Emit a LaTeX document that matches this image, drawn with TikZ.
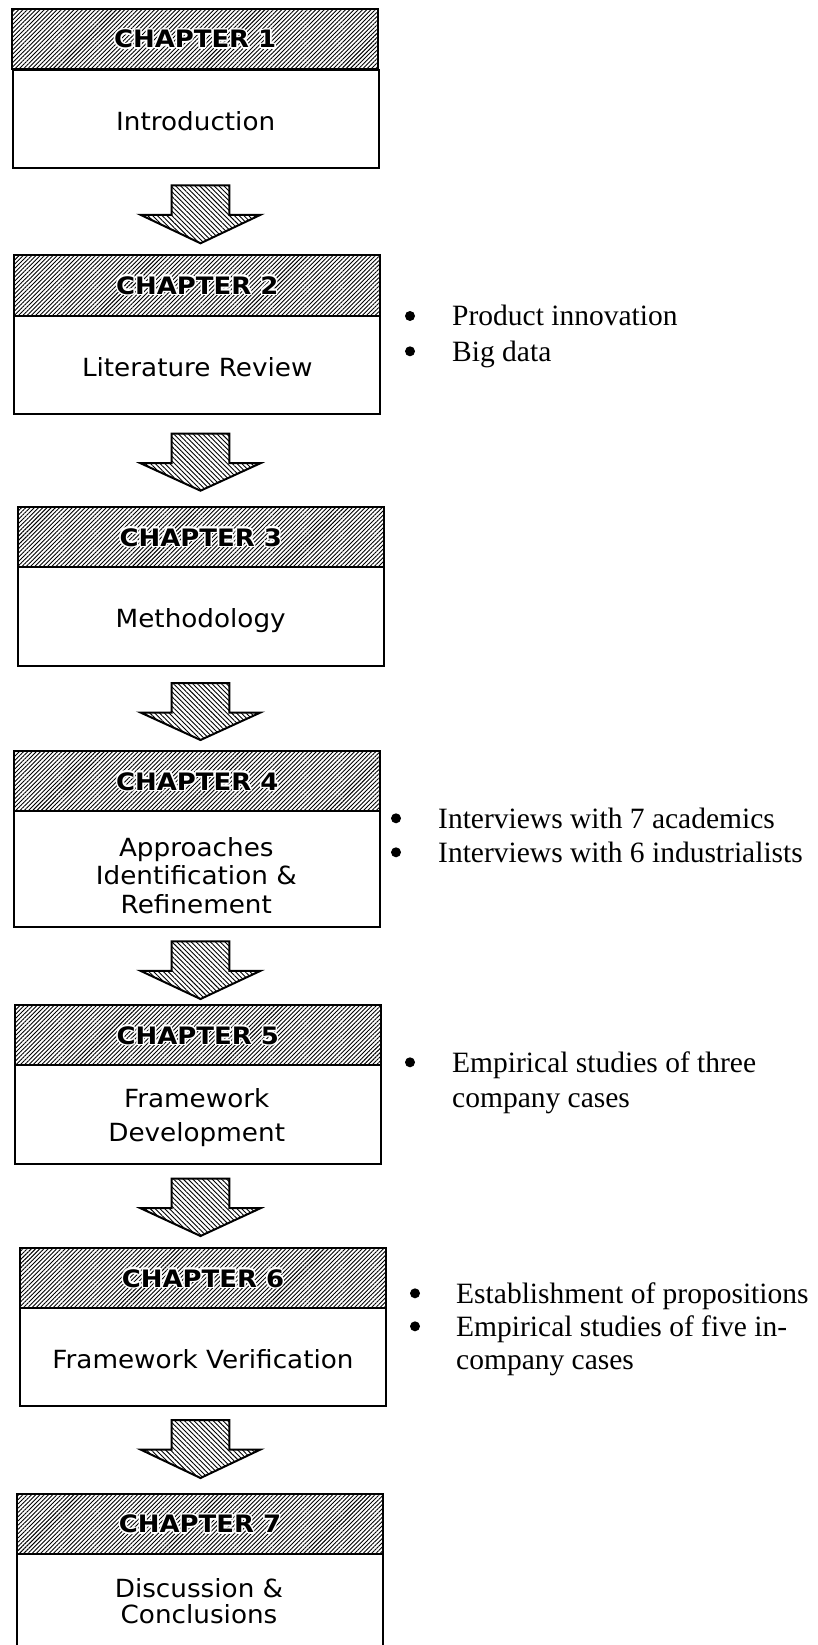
\documentclass[tikz,border=0pt]{standalone}
\usepackage{fontspec}
\usetikzlibrary{patterns.meta,calc}

\newfontfamily\boxfont[FakeStretch=1.05]{DejaVu Sans}
\newfontfamily\capfont[FakeStretch=1.08]{DejaVu Sans}
\newfontfamily\notefont{Liberation Serif}

% white halo behind the chapter captions so they stand out of the hatching
\newcommand\hcopy[3]{\rlap{\hspace*{#1}\raisebox{#2}{\color{white}#3}}}
\newcommand\halo[1]{%
  \hcopy{1.6pt}{0pt}{#1}\hcopy{-1.6pt}{0pt}{#1}%
  \hcopy{0pt}{1.6pt}{#1}\hcopy{0pt}{-1.6pt}{#1}%
  \hcopy{1.13pt}{1.13pt}{#1}\hcopy{-1.13pt}{1.13pt}{#1}%
  \hcopy{1.13pt}{-1.13pt}{#1}\hcopy{-1.13pt}{-1.13pt}{#1}%
  #1}

\tikzset{
  hdr/.style={draw, line width=2pt,
    pattern={Lines[angle=45,distance=3pt,line width=0.9pt]},
    minimum width=366pt, minimum height=60.5pt, anchor=north west, inner sep=0pt,
    font=\capfont\bfseries\fontsize{24}{28}\selectfont,
    text height=17.5pt, text depth=0pt},
  body/.style={draw, line width=2pt, fill=white,
    minimum width=366pt, anchor=north west, inner sep=0pt,
    font=\boxfont\fontsize{25}{28}\selectfont,
    text height=22pt, text depth=0pt},
  bodyline/.style={anchor=base, inner sep=0pt,
    font=\boxfont\fontsize{25}{28}\selectfont},
  note/.style={anchor=base west, inner sep=0pt,
    font=\notefont\fontsize{29.5}{34}\selectfont},
  dot/.style={circle, fill=black, inner sep=0pt, minimum size=10pt},
  barrow/.style={draw, line width=2pt, line join=miter,
    pattern={Lines[angle=-45,distance=3.4pt,line width=0.9pt]}},
}

% hatched block arrow from the bottom of one box to the top of the next
\newcommand\blockarrow[4]{%
  \draw[barrow] ($(#1.south -| ax)+(-28.8,#3)$) -- ++(57.6,0) -- ++(0,29.5)
    -- ++(31.2,0) -- ($(#2.north -| ax)+(0,-#4)$)
    -- ($(#1.south -| ax)+(-60,#3+29.5)$) -- ++(31.2,0) -- cycle;}

\begin{document}
\begin{tikzpicture}[x=1pt,y=-1pt]
\useasboundingbox (0,0) rectangle (818,1645);
\clip (0,0) rectangle (818,1645);
\fill[white] (0,0) rectangle (818,1645);
\coordinate (ax) at (200.5,0);

% Chapter 1
\node[hdr] (h1) at (11.7,8.3) {\halo{CHAPTER 1}};
\node[body, minimum height=98pt] (b1) at (11.7,69.3) {Introduction};

% Chapter 2
\node[hdr] (h2) at (13.3,254) {\halo{CHAPTER 2}};
\node[body, minimum height=98pt] (b2) at (13.3,315) {Literature Review};
\node[dot] (d2a) at (410,316) {};
\node[note] (n2a) at (452,325.7) {Product innovation};
\node[dot] (d2b) at (410,351.3) {};
\node[note] (n2b) at (452,361) {Big data};

% Chapter 3
\node[hdr] (h3) at (16.7,506) {\halo{CHAPTER 3}};
\node[body, minimum height=99pt] (b3) at (16.7,566) {Methodology};

% Chapter 4
\node[hdr] (h4) at (13.3,750) {\halo{CHAPTER 4}};
\node[body, minimum height=116pt] (b4) at (13.3,810) {};
\node[bodyline] (b4a) at (196.3,856) {Approaches};
\node[bodyline] (b4b) at (196.3,884.5) {Identification \&};
\node[bodyline] (b4c) at (196.3,913) {Refinement};
\node[dot] (d4a) at (396,818.3) {};
\node[note] (n4a) at (438,828) {Interviews with 7 academics};
\node[dot] (d4b) at (396,852.3) {};
\node[note] (n4b) at (438,862) {Interviews with 6 industrialists};

% Chapter 5
\node[hdr] (h5) at (13.7,1004.3) {\halo{CHAPTER 5}};
\node[body, minimum height=99pt] (b5) at (13.7,1064.3) {};
\node[bodyline] (b5a) at (196.7,1107) {Framework};
\node[bodyline] (b5b) at (196.7,1141) {Development};
\node[dot] (d5a) at (410,1062.3) {};
\node[note] (n5a) at (452,1072) {Empirical studies of three};
\node[note] (n5b) at (452,1107) {company cases};

% Chapter 6
\node[hdr] (h6) at (19,1247) {\halo{CHAPTER 6}};
\node[body, minimum height=98pt] (b6) at (19,1307) {Framework Verification};
\node[dot] (d6a) at (415,1293.3) {};
\node[note] (n6a) at (456,1303) {Establishment of propositions};
\node[dot] (d6b) at (415,1326.3) {};
\node[note] (n6b) at (456,1336) {Empirical studies of five in-};
\node[note] (n6c) at (456,1369) {company cases};

% Chapter 7
\node[hdr] (h7) at (16,1492.7) {\halo{CHAPTER 7}};
\node[body, minimum height=100pt] (b7) at (16,1553) {};
\node[bodyline] (b7a) at (199,1597) {Discussion \&};
\node[bodyline] (b7b) at (199,1623) {Conclusions};

% arrows between the chapters
\blockarrow{b1}{h2}{16}{10.7}
\blockarrow{b2}{h3}{18.7}{15.3}
\blockarrow{b3}{h4}{16}{10}
\blockarrow{b4}{h5}{13.3}{5.3}
\blockarrow{b5}{h6}{13.4}{11}
\blockarrow{b6}{h7}{13}{14.7}
\end{tikzpicture}
\end{document}
